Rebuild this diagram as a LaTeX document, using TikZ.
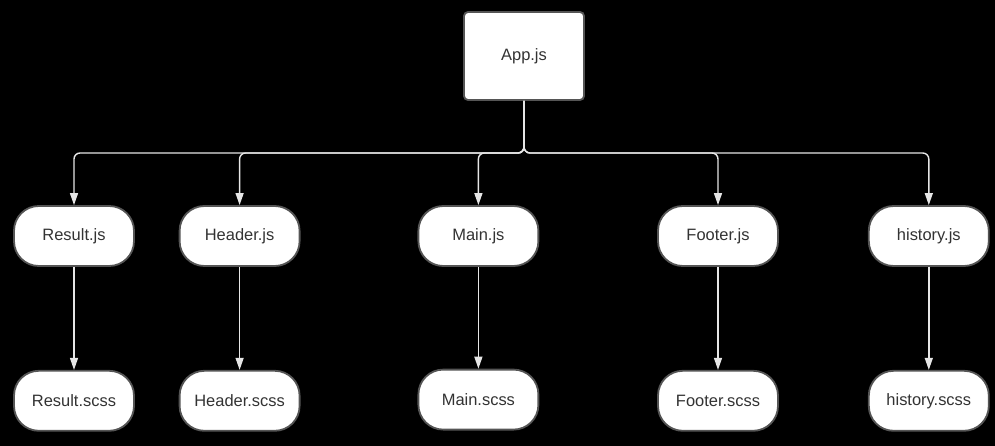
\documentclass[tikz,border=0pt]{standalone}
\usepackage{fontspec}
\setmainfont{Liberation Sans}
\usepackage{tikz}
\usetikzlibrary{arrows.meta}
\usetikzlibrary{positioning}

\definecolor{edgegray}{HTML}{555555}
\definecolor{textgray}{HTML}{333333}
\definecolor{linkwhite}{HTML}{E6E6E6}

\tikzset{
  filebox/.style={draw=edgegray, line width=1.3pt, fill=white, text=textgray,
    rounded corners=0.62cm, minimum width=3cm, minimum height=1.5cm,
    font=\fontsize{11.7}{14}\selectfont},
  rootbox/.style={draw=edgegray, line width=1.3pt, fill=white, text=textgray,
    rounded corners=0.1cm, minimum width=3cm, minimum height=2.2cm,
    font=\fontsize{11.7}{14}\selectfont},
  link/.style={draw=linkwhite, line width=1pt, rounded corners=0.15cm,
    -{Triangle[width=0.2cm,length=0.3cm]}}
}

\begin{document}
\begin{tikzpicture}
  % Define the rows
  \def\rowtop{-5.9}
  \def\rowbot{-10.02}
  \def\busy{-3.825}

  % Background
  \fill[black] (0,0) rectangle (24.875,-11.15);
  \useasboundingbox (0,0) rectangle (24.875,-11.15);

  % Root
  \node[rootbox] (app) at (13.1,-1.4) {App.js};
  \coordinate (bus) at (13.1,\busy);

  % Components
  \node[filebox] (result) at (1.85,\rowtop) {Result.js};
  \node[filebox] (header) at (5.99,\rowtop) {Header.js};
  \node[filebox] (main) at (11.96,\rowtop) {Main.js};
  \node[filebox] (footer) at (17.95,\rowtop) {Footer.js};
  \node[filebox] (history) at (23.22,\rowtop) {history.js};

  % Stylesheets
  \node[filebox] (resultcss) at (1.85,\rowbot) {Result.scss};
  \node[filebox] (headercss) at (5.99,\rowbot) {Header.scss};
  \node[filebox] (maincss) at (11.96,-9.99) {Main.scss};
  \node[filebox] (footercss) at (17.95,\rowbot) {Footer.scss};
  \node[filebox] (historycss) at (23.22,\rowbot) {history.scss};

  % Connect root to components
  \foreach \n in {result,header,main,footer,history}{
    \draw[link] (app.south) -- (bus) -| (\n.north);
  }

  % Connect components to stylesheets
  \foreach \n in {result,header,main,footer,history}{
    \draw[link] (\n.south) -- (\n css.north);
  }
\end{tikzpicture}
\end{document}
